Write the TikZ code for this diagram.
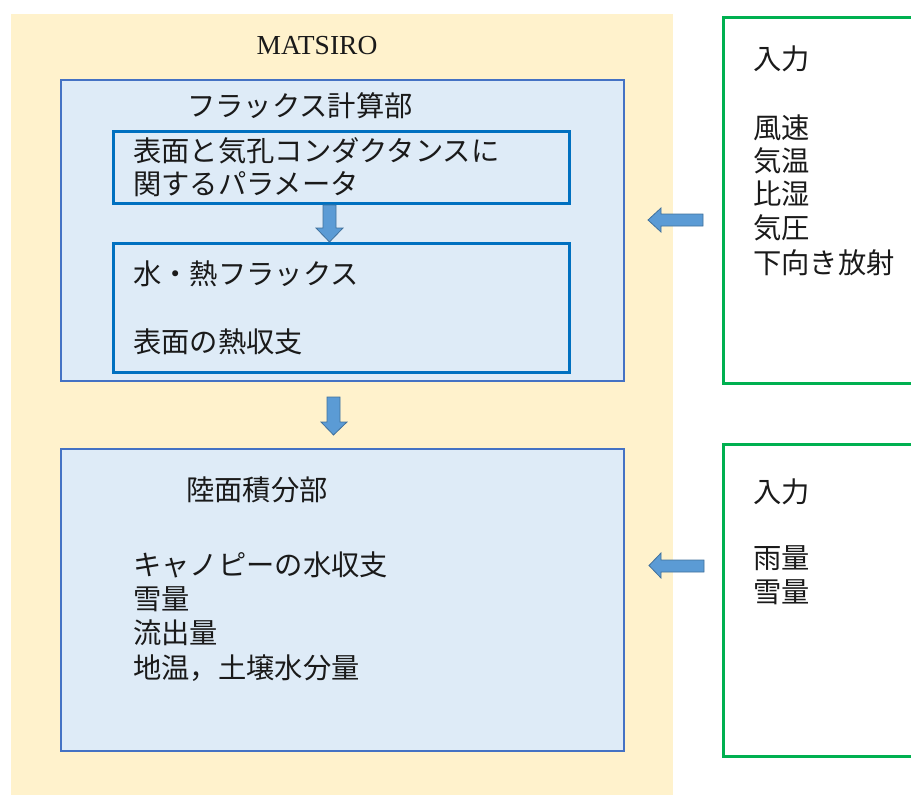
\documentclass[tikz,border=0pt]{standalone}
\usepackage{fontspec}
\setmainfont{Liberation Serif}
\newfontfamily\jp{Noto Sans CJK JP}
\definecolor{bgyellow}{HTML}{FFF2CC}
\definecolor{boxfill}{HTML}{DEEBF7}
\definecolor{boxline}{HTML}{4472C4}
\definecolor{innerline}{HTML}{0070C0}
\definecolor{greenline}{HTML}{00B050}
\definecolor{arrowfill}{HTML}{5B9BD5}
\definecolor{arrowline}{HTML}{41719C}
\definecolor{txt}{HTML}{1A1A1A}
\tikzset{
  panel/.style={draw=boxline, line width=1.4pt, fill=boxfill, inner sep=0pt},
  subpanel/.style={draw=innerline, line width=3pt, inner sep=0pt},
  inbox/.style={draw=greenline, line width=3.5pt, inner sep=0pt},
  jtext/.style={anchor=base west, inner sep=0pt, text=txt, font=\jp\fontsize{28.3}{34}\selectfont},
  blockarrow/.style={fill=arrowfill, draw=arrowline, line width=0.8pt, line join=miter},
}
\begin{document}
\begin{tikzpicture}[x=1pt,y=-1pt]
\useasboundingbox (0,0) rectangle (911,795);
\clip (0,0) rectangle (911,795);
% background
\node[fill=bgyellow, inner sep=0pt, minimum width=662pt, minimum height=790pt, anchor=north west] (bg) at (11,14) {};
% panels
\node[panel, minimum width=563pt, minimum height=301pt] (flux) at (342.5,230.5) {};
\node[subpanel, minimum width=456pt, minimum height=72pt] (param) at (341.5,167.5) {};
\node[subpanel, minimum width=456pt, minimum height=129pt] (water) at (341.5,308) {};
\node[panel, minimum width=563pt, minimum height=302pt] (land) at (342.5,600) {};
% input boxes
\node[inbox, minimum width=220pt, minimum height=366pt, anchor=north west] (in1) at (721.5,15.5) {};
\node[inbox, minimum width=220pt, minimum height=312pt, anchor=north west] (in2) at (721.5,442.5) {};
% title
\node[inner sep=0pt, text=txt, font=\fontsize{27.5}{30}\selectfont] (title) at (317,45.5) {MATSIRO};
% texts
\node[jtext] (t1) at (187,116) {フラックス計算部};
\node[jtext] (t2) at (133,161) {表面と気孔コンダクタンスに};
\node[jtext] (t3) at (133,194) {関するパラメータ};
\node[jtext] (t4) at (133,284) {水・熱フラックス};
\node[jtext] (t5) at (133,352) {表面の熱収支};
\node[jtext] (t6) at (186,500) {陸面積分部};
\node[jtext] (t7) at (133,575) {キャノピーの水収支};
\node[jtext] (t8) at (133,609) {雪量};
\node[jtext] (t9) at (133,643) {流出量};
\node[jtext] (t10) at (133,678) {地温，土壌水分量};
\node[jtext] (r1) at (753,69) {入力};
\node[jtext] (r2) at (753,138) {風速};
\node[jtext] (r3) at (753,171) {気温};
\node[jtext] (r4) at (753,204) {比湿};
\node[jtext] (r5) at (753,238) {気圧};
\node[jtext] (r6) at (753,273) {下向き放射};
\node[jtext] (s1) at (753,502) {入力};
\node[jtext] (s2) at (753,568) {雨量};
\node[jtext] (s3) at (753,602) {雪量};
% block arrows
\draw[blockarrow] (323,205) -- (336,205) -- (336,228) -- (343,228) -- (329.5,242) -- (316,228) -- (323,228) -- cycle;
\draw[blockarrow] (327,397) -- (340,397) -- (340,422) -- (347,422) -- (333.5,435) -- (321,422) -- (327,422) -- cycle;
\draw[blockarrow] (703,214) -- (703,226) -- (661,226) -- (661,232) -- (648,220) -- (661,208) -- (661,214) -- cycle;
\draw[blockarrow] (704,560) -- (704,572) -- (661,572) -- (661,578) -- (649,565.5) -- (661,553) -- (661,560) -- cycle;
\end{tikzpicture}
\end{document}
